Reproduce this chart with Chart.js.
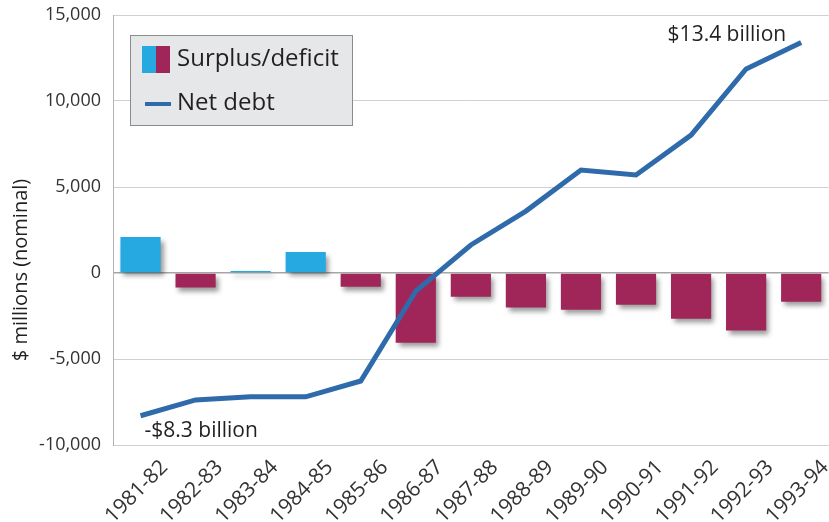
<!DOCTYPE html>
<html>
<head>
<meta charset="utf-8">
<script src="https://cdn.jsdelivr.net/npm/chart.js@4"></script>
<style>
  html, body { margin: 0; padding: 0; background: #fff; }
  #wrap { width: 829px; height: 522px; position: relative; }
</style>
</head>
<body>
<div id="wrap"><canvas id="debtChart"></canvas></div>
<script>
var years = ['1981-82', '1982-83', '1983-84', '1984-85', '1985-86', '1986-87', '1987-88',
  '1988-89', '1989-90', '1990-91', '1991-92', '1992-93', '1993-94']
var surplusDeficit = [2090, -850, 120, 1220, -800, -4050, -1380, -2010, -2130, -1840, -2660, -3350, -1670]
var netDebt = [-8300, -7380, -7200, -7200, -6280, -1050, 1630, 3600, 5990, 5700, 8020, 11860, 13400]
var yTicks = [-10000, -5000, 0, 5000, 10000, 15000]

var blue = '#25a9e0'
var maroon = '#a0265a'
var lineBlue = '#2f6bab'
var font = "'Open Sans', sans-serif"

// drop shadow under the bars
var barShadow = {
  id: 'barShadow',
  beforeDatasetDraw: function (chart, args) {
    if (args.meta.type !== 'bar') return
    var ctx = chart.ctx
    ctx.save()
    ctx.shadowColor = 'rgba(0,0,0,0.4)'
    ctx.shadowBlur = 5
    ctx.shadowOffsetX = 3
    ctx.shadowOffsetY = 4
  },
  afterDatasetDraw: function (chart, args) {
    if (args.meta.type !== 'bar') return
    chart.ctx.restore()
  }
}

// legend box, axis title and the two value notes
var extras = {
  id: 'extras',
  afterDraw: function (chart) {
    var ctx = chart.ctx
    ctx.save()
    ctx.fillStyle = '#e6e7e8'
    ctx.fillRect(130, 35, 223, 91)
    ctx.strokeStyle = '#8c8c8c'
    ctx.lineWidth = 1
    ctx.strokeRect(130.5, 35.5, 222, 90)

    ctx.fillStyle = blue
    ctx.fillRect(142, 46, 14, 27)
    ctx.fillStyle = maroon
    ctx.fillRect(156, 46, 14, 27)
    ctx.strokeStyle = lineBlue
    ctx.lineWidth = 4
    ctx.beginPath()
    ctx.moveTo(145, 104)
    ctx.lineTo(171, 104)
    ctx.stroke()

    ctx.fillStyle = '#231f20'
    ctx.font = '24px ' + font
    ctx.textBaseline = 'middle'
    ctx.textAlign = 'left'
    ctx.fillText('Surplus/deficit', 177, 59)
    ctx.fillText('Net debt', 177, 103)

    var x = chart.scales.x
    var y = chart.scales.y
    ctx.font = '21px ' + font
    ctx.textAlign = 'right'
    ctx.fillText('$13.4 billion', x.getPixelForValue(12) - 15, y.getPixelForValue(13400) - 8)
    ctx.textAlign = 'left'
    ctx.fillText('-$8.3 billion', x.getPixelForValue(0) + 4, y.getPixelForValue(-8300) + 15)

    ctx.translate(21, 270)
    ctx.rotate(-Math.PI / 2)
    ctx.textAlign = 'center'
    ctx.font = '20px ' + font
    ctx.fillText('$ millions (nominal)', 0, 0)
    ctx.restore()
  }
}

var ctx = document.getElementById('debtChart').getContext('2d')
new Chart(ctx, {
  data: {
    labels: years,
    datasets: [
      {
        type: 'line',
        label: 'Net debt',
        data: netDebt,
        borderColor: lineBlue,
        borderWidth: 5,
        pointRadius: 0,
        tension: 0,
        order: 0
      },
      {
        type: 'bar',
        label: 'Surplus/deficit',
        data: surplusDeficit,
        backgroundColor: surplusDeficit.map(function (v) { return v >= 0 ? blue : maroon }),
        barPercentage: 0.73,
        categoryPercentage: 1,
        order: 1
      }
    ]
  },
  options: {
    responsive: true,
    maintainAspectRatio: false,
    animation: false,
    layout: { padding: 0 },
    plugins: {
      legend: { display: false },
      tooltip: { enabled: false }
    },
    scales: {
      x: {
        grid: { display: false, drawTicks: false },
        border: { display: false },
        afterFit: function (axis) { axis.height = 77 },
        ticks: {
          color: '#333333',
          font: { family: font, size: 21 },
          minRotation: 45,
          maxRotation: 45,
          autoSkip: false,
          labelOffset: 24,
          padding: 10
        }
      },
      y: {
        min: -10000,
        max: 15000,
        afterBuildTicks: function (axis) {
          axis.ticks = yTicks.map(function (v) { return { value: v } })
        },
        afterFit: function (axis) {
          axis.width = 113
          axis.paddingTop = 15
        },
        grid: {
          color: function (c) { return c.tick && c.tick.value === 0 ? '#a6a6a6' : '#d0d0d0' },
          lineWidth: function (c) { return c.tick && c.tick.value === 0 ? 1.5 : 1 },
          drawTicks: false
        },
        border: { display: true, color: '#b3b3b3' },
        ticks: {
          color: '#333333',
          font: { family: font, size: 18 },
          padding: 12,
          callback: function (v) { return v.toLocaleString('en-US') }
        }
      }
    }
  },
  plugins: [barShadow, extras]
})
</script>
</body>
</html>
